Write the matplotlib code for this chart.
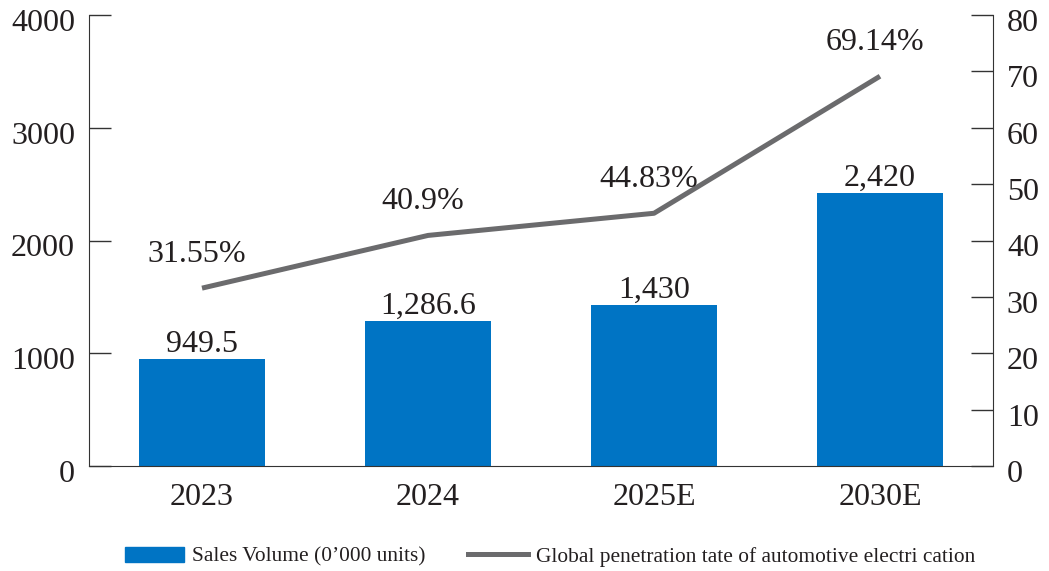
import numpy as np
import matplotlib.pyplot as plt
import matplotlib.transforms as mtransforms
from matplotlib.lines import Line2D
from matplotlib.patches import Patch

years = ['2023', '2024', '2025E', '2030E']
sales = [949.5, 1286.6, 1430, 2420]
sales_labels = ['949.5', '1,286.6', '1,430', '2,420']
penetration = [31.55, 40.9, 44.83, 69.14]
pen_labels = ['31.55%', '40.9%', '44.83%', '69.14%']

plt.rcParams['font.family'] = ['Liberation Serif', 'DejaVu Serif']
txt = '#231f20'
bar_c = '#0074c4'
line_c = '#6b6b6d'

fig = plt.figure(figsize=(10.49, 5.71), dpi=100)
ax = fig.add_axes([89 / 1049, 1 - 466 / 571, 904 / 1049, 451 / 571])
x = np.arange(len(years))
ax.bar(x, sales, width=0.56, color=bar_c, zorder=2)
ax.set_xlim(-0.5, 3.5)
ax.set_ylim(0, 4000)
ax.set_yticks([0, 1000, 2000, 3000, 4000])
ax.set_xticks(x)
ax.set_xticklabels(years)
ax.tick_params(axis='y', direction='in', length=16, width=1, colors='#333333',
               labelcolor=txt, labelsize=23, pad=10)
ax.tick_params(axis='x', length=0, labelcolor=txt, labelsize=23, pad=12)
for s in ['top', 'right']:
    ax.spines[s].set_visible(False)
for s in ['left', 'bottom']:
    ax.spines[s].set_color('#333333')
for i, v in enumerate(sales):
    ax.annotate(sales_labels[i], (x[i], v), xytext=(0, 0), textcoords='offset points',
                ha='center', va='bottom', fontsize=23, color=txt)

ax2 = ax.twinx()
ax2.set_ylim(0, 80)
ax2.set_yticks(range(0, 81, 10))
ax2.plot(x, penetration, color=line_c, linewidth=3.6, solid_capstyle='butt', zorder=3)
ax2.tick_params(axis='y', direction='in', length=16, width=1, colors='#333333',
                labelcolor=txt, labelsize=23, pad=10)
for s in ['top', 'left', 'bottom']:
    ax2.spines[s].set_visible(False)
ax2.spines['right'].set_color('#333333')
for i, v in enumerate(penetration):
    ax2.annotate(pen_labels[i], (x[i], v), xytext=(-4, 14), textcoords='offset points',
                 ha='center', va='bottom', fontsize=23, color=txt)

# y labels sit slightly below their ticks
shift = mtransforms.ScaledTranslation(0, -5 / 100, fig.dpi_scale_trans)
for a in (ax, ax2):
    for lab in a.get_yticklabels():
        lab.set_transform(lab.get_transform() + shift)

handles = [Patch(color=bar_c), Line2D([0], [0], color=line_c, linewidth=3.6)]
names = ["Sales Volume (0\u2019000 units)", "Global penetration tate of automotive electri cation"]
fig.legend(handles, names, loc='center', bbox_to_anchor=(0.524, 0.025), ncol=2,
           frameon=False, fontsize=15.4, handlelength=2.8, columnspacing=2.0,
           handletextpad=0.35, labelcolor=txt)

fig.savefig('out.png', dpi=100)
